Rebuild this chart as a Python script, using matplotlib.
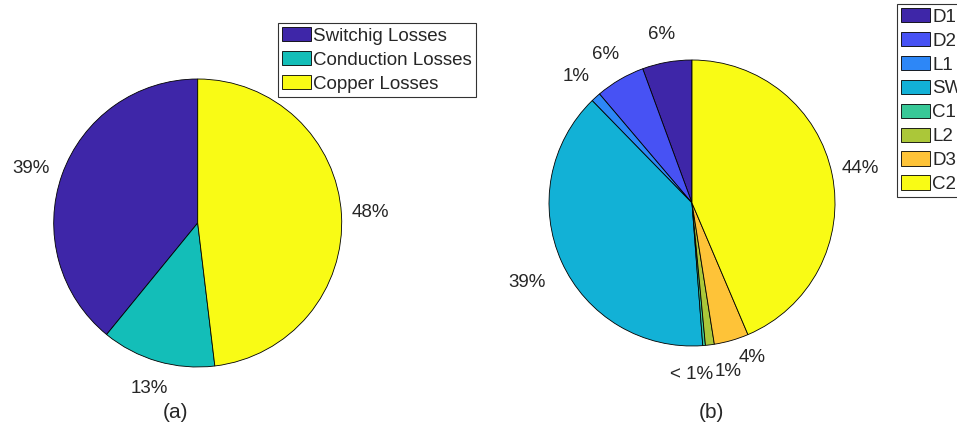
import matplotlib
matplotlib.use("Agg")
import matplotlib.pyplot as plt
import numpy as np

plt.rcParams['font.family'] = ['Liberation Sans', 'DejaVu Sans']

# (a) loss breakdown by type
a_labels = ["Switchig Losses", "Conduction Losses", "Copper Losses"]
a_values = [39.1, 12.8, 48.1]
a_text = ["39%", "13%", "48%"]
a_colors = ["#3E26A8", "#13BEB8", "#F9FB15"]

# (b) loss breakdown by component
b_labels = ["D1", "D2", "L1", "SW", "C1", "L2", "D3", "C2"]
b_values = [5.6, 5.6, 1.1, 38.9, 0.3, 1.0, 3.9, 43.6]
b_text = ["6%", "6%", "1%", "39%", "< 1%", "1%", "4%", "44%"]
b_colors = ["#3E26A8", "#4752F4", "#2D87F7", "#12B1D6",
            "#37C897", "#ABC739", "#FEC338", "#F9FB15"]

W, H = 957, 434
TXT = "#262626"
fig = plt.figure(figsize=(W / 100, H / 100), dpi=100)


def pie_axes(rect_px, center_px, radius_px):
    """Axes spanning rect_px (x0, x1 in px) with unit radius = radius_px."""
    x0, x1 = rect_px
    ax = fig.add_axes([x0 / W, 0, (x1 - x0) / W, 1])
    cx, cy = center_px
    cy_b = H - cy
    return ax, (-(cx - x0) / radius_px, (x1 - cx) / radius_px), (-cy_b / radius_px, (H - cy_b) / radius_px)


def draw_pie(ax, xlim, ylim, values, texts, colors, nudges, r_px):
    wedges, labs = ax.pie(values, labels=texts, colors=colors, startangle=90,
                          counterclock=True, labeldistance=1.2,
                          wedgeprops=dict(edgecolor="black", linewidth=0.6),
                          textprops=dict(fontsize=13.5, color=TXT))
    for i, t in enumerate(labs):
        t.set_ha("center")
        t.set_va("center")
        if i in nudges:
            dx, dy = nudges[i]
            x, y = t.get_position()
            t.set_position((x + dx / r_px, y - dy / r_px))
    ax.set_aspect("auto")
    ax.set_xlim(*xlim)
    ax.set_ylim(*ylim)
    ax.axis("off")
    return wedges


ax1, xl1, yl1 = pie_axes((0, 478), (197.7, 223), 144)
w1 = draw_pie(ax1, xl1, yl1, a_values, a_text, a_colors, {0: (-4, 4)}, 144)

ax2, xl2, yl2 = pie_axes((478, 957), (692, 203), 143)
w2 = draw_pie(ax2, xl2, yl2, b_values, b_text, b_colors,
              {3: (-9, 9), 4: (-15, 1), 5: (15, -2), 6: (13, -10)}, 143)

leg_kw = dict(loc="upper left", frameon=True, fancybox=False, fontsize=13.5,
              borderaxespad=0, borderpad=0.22, handletextpad=0.1,
              handlelength=1.55, handleheight=0.8, labelspacing=0.33,
              edgecolor="black", labelcolor=TXT)
leg1 = fig.legend(w1, a_labels, bbox_to_anchor=(278 / W, 1 - 23 / H), **leg_kw)
leg1.get_frame().set_linewidth(0.8)
leg2 = fig.legend(w2, b_labels, bbox_to_anchor=(897 / W, 1 - 4 / H), **leg_kw)
leg2.get_frame().set_linewidth(0.8)

fig.text(176 / W, 1 - 413 / H, "(a)", ha="center", va="center", fontsize=15, color=TXT)
fig.text(711 / W, 1 - 413 / H, "(b)", ha="center", va="center", fontsize=15, color=TXT)

fig.savefig("out.png", dpi=100)
